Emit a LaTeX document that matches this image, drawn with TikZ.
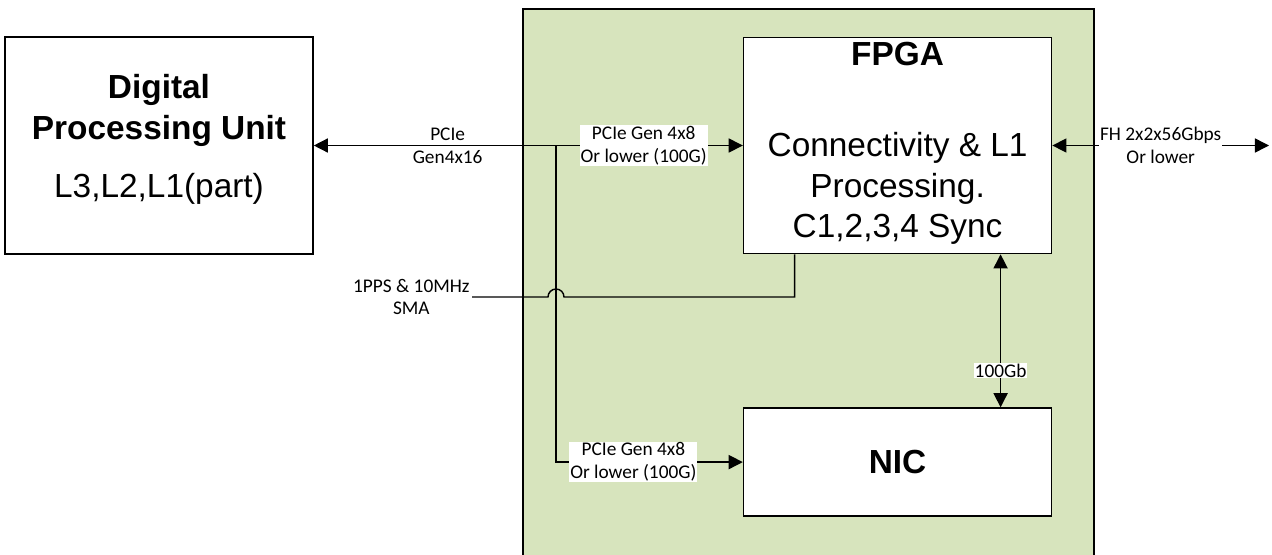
\documentclass[tikz,border=0pt]{standalone}
\usepackage{fontspec}
\setmainfont{Carlito}
\newfontfamily\arialfont{Liberation Sans}
\usepackage{xcolor}
\usetikzlibrary{positioning,arrows.meta}
\definecolor{boardgreen}{HTML}{D7E4BD}

\begin{document}
\begin{tikzpicture}[
  font=\fontsize{11}{13}\selectfont,
  blk/.style={draw, line width=0.9pt, fill=white, minimum width=6.16cm,
              inner ysep=0pt, align=center,
              font=\arialfont\fontsize{19}{23}\selectfont},
  lbl/.style={fill=white, inner sep=0.5pt, align=center},
  line width=0.8pt,
  >={Triangle[length=8pt,width=8pt]}
]
\useasboundingbox (0,0) rectangle (25.44,-11.08);
% board behind FPGA and NIC
\draw[fill=boardgreen, line width=0.9pt] (10.46,-0.18) rectangle (21.88,-11.4);

\node[blk, minimum height=4.34cm] (dpu) at (3.18,-2.91)
  {\textbf{Digital}\\\textbf{Processing Unit}\\[10pt]L3,L2,L1(part)\rule[-11pt]{0pt}{11pt}};
\node[blk, minimum height=4.32cm, right=8.58cm of dpu] (fpga)
  {\textbf{FPGA}\\[29pt]Connectivity \& L1\\Processing.\\C1,2,3,4 Sync\rule[-6.5pt]{0pt}{6.5pt}};
\node[blk, minimum height=2.16cm, below=3.06cm of fpga] (nic) {\textbf{NIC}};

\coordinate (br) at (11.12,-2.91);
\coordinate (pps) at (9.44,-5.94);
\coordinate (fh) at (25.38,-2.91);

% host link and branch to NIC
\draw[<->] (dpu.east) -- node[align=center, pos=0.312] (hostlbl) {PCIe\\Gen4x16}
  node[lbl, pos=0.769] (fpgalbl) {PCIe Gen 4x8\\Or lower (100G)} (fpga.west);
\draw[->] (br) |- node[lbl, pos=0.707] (niclbl) {PCIe Gen 4x8\\Or lower (100G)} (nic.west);

% fronthaul
\draw[<->] (fpga.east) -- node[lbl] (fhlbl) {FH 2x2x56Gbps\\Or lower} (fh);

% FPGA to NIC
\draw[<->] ([xshift=2.06cm]fpga.south) -- node[lbl, pos=0.76] (ethlbl) {100Gb}
  ([xshift=2.06cm]nic.north);

% timing input, hops over the branch
\node[align=center, left=0pt of pps, inner sep=1pt] (ppslbl) {1PPS \& 10MHz\\SMA};
\draw (pps) -- ++(1.52,0) arc[start angle=180, end angle=0, radius=0.16]
  -| ([xshift=-2.06cm]fpga.south);
\end{tikzpicture}
\end{document}
